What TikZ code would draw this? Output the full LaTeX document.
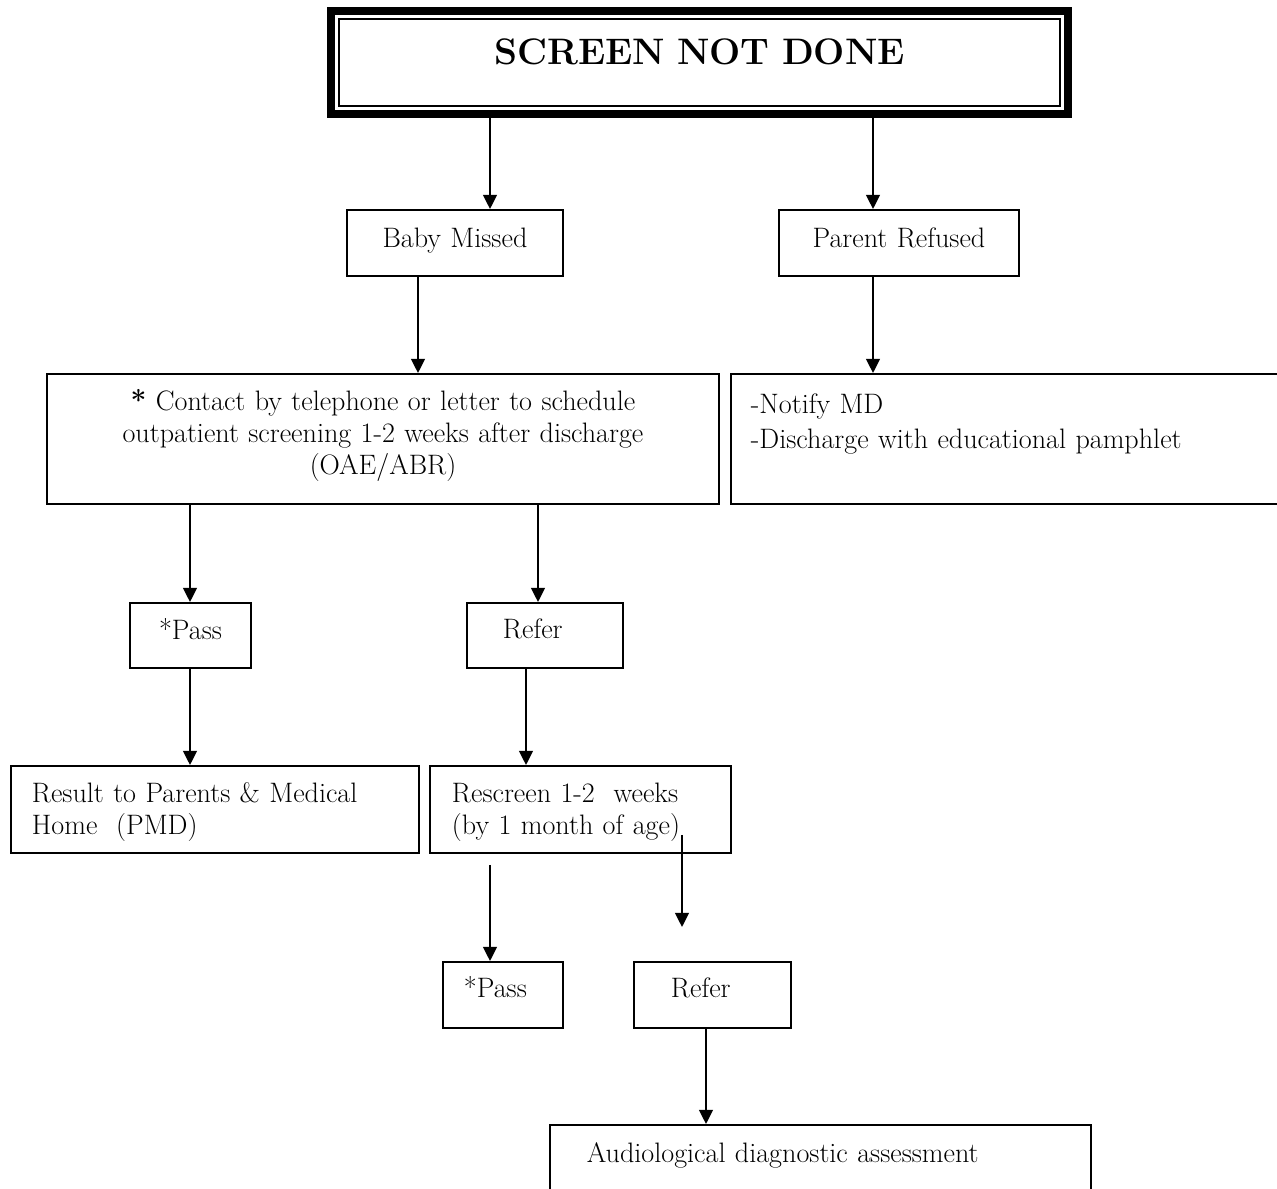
\documentclass[tikz,border=0pt]{standalone}
\usepackage{tikz}
\usetikzlibrary{arrows.meta}

\newdimen\pxu
\pxu=0.02cm

\tikzset{
  box/.style={draw, line width=1.1pt, anchor=north west, inner ysep=0pt, inner xsep=20\pxu,
    align=left, font=\fontsize{16}{18.1}\selectfont},
  arr/.style={line width=1.1pt, -{Triangle[width=7.8pt,length=8pt]}}
}

\begin{document}
\begin{tikzpicture}[x=0.02cm, y=-0.02cm]
  \useasboundingbox (0,0) rectangle (1277,1188);
  \clip (0,0) rectangle (1277,1188);

  % title
  \node[draw, line width=4.5pt, anchor=north west, inner sep=0pt, text width=737\pxu, align=center,
    text height=54\pxu, text depth=49\pxu, font=\fontsize{21}{24}\selectfont\bfseries] (title) at (327,7) {SCREEN NOT DONE};
  \draw[line width=1.1pt] ([shift={(12,12)}]title.north west) rectangle ([shift={(-12,-12)}]title.south east);

  % boxes
  \node[box, inner xsep=10\pxu, text width=196\pxu, align=center, text height=38\pxu, text depth=28\pxu] (baby) at (346,209) {Baby Missed};
  \node[box, inner xsep=10\pxu, text width=220\pxu, align=center, text height=38\pxu, text depth=28\pxu] (parent) at (778,209) {Parent Refused};
  \node[box, inner xsep=10\pxu, text width=652\pxu, align=center, text height=37\pxu, text depth=93\pxu] (contact) at (46,373)
    {\textbf{*} Contact by telephone or letter to schedule\\ outpatient screening 1-2 weeks after discharge\\ (OAE/ABR)};
  \node[box, text width=520\pxu, text height=40\pxu, text depth=90\pxu] (notify) at (730,373)
    {-Notify MD\\[3\pxu] -Discharge with educational pamphlet};
  \node[box, inner xsep=10\pxu, text width=101\pxu, align=center, text height=37\pxu, text depth=28\pxu] (pass1) at (129,602) {*Pass};
  \node[box, inner xsep=36\pxu, text width=84\pxu, text height=36\pxu, text depth=29\pxu] (refer1) at (466,602) {Refer};
  \node[box, inner xsep=21\pxu, text width=366\pxu, text height=37\pxu, text depth=50\pxu] (result) at (10,765)
    {Result to Parents \& Medical\\ Home~ (PMD)};
  \node[box, inner xsep=22\pxu, text width=257\pxu, text height=37\pxu, text depth=50\pxu] (rescreen) at (429,765)
    {Rescreen 1-2~ weeks\\ (by 1 month of age)};
  \node[box, inner xsep=21\pxu, text width=78\pxu, text height=36\pxu, text depth=30\pxu] (pass2) at (442,961) {*Pass};
  \node[box, inner xsep=37\pxu, text width=83\pxu, text height=36\pxu, text depth=30\pxu] (refer2) at (633,961) {Refer};
  \node[box, inner xsep=37\pxu, text width=467\pxu, text height=38\pxu, text depth=60\pxu] (audio) at (549,1124)
    {Audiological diagnostic assessment};

  \coordinate (gap) at ([xshift=49\pxu, yshift=34\pxu]refer2.north west);

  % arrows
  \draw[arr] ([xshift=144\pxu]baby.north west |- title.south) -- ([xshift=144\pxu]baby.north west);
  \draw[arr] ([xshift=95\pxu]parent.north west |- title.south) -- ([xshift=95\pxu]parent.north west);
  \draw[arr] ([xshift=72\pxu]baby.south west) -- ([xshift=72\pxu]baby.south west |- contact.north);
  \draw[arr] ([xshift=95\pxu]parent.south west) -- ([xshift=95\pxu]parent.south west |- notify.north);
  \draw[arr] ([xshift=61\pxu]pass1.north west |- contact.south) -- ([xshift=61\pxu]pass1.north west);
  \draw[arr] ([xshift=72\pxu]refer1.north west |- contact.south) -- ([xshift=72\pxu]refer1.north west);
  \draw[arr] ([xshift=61\pxu]pass1.south west) -- ([xshift=61\pxu]pass1.south west |- result.north);
  \draw[arr] ([xshift=60\pxu]refer1.south west) -- ([xshift=60\pxu]refer1.south west |- rescreen.north);
  \draw[arr] ([xshift=48\pxu, yshift=-11\pxu]pass2.north west |- rescreen.south) -- ([xshift=48\pxu]pass2.north west);
  \draw[arr] ([xshift=253\pxu, yshift=19\pxu]rescreen.south west) -- (gap);
  \draw[arr] ([xshift=73\pxu]refer2.south west) -- ([xshift=73\pxu]refer2.south west |- audio.north);
\end{tikzpicture}
\end{document}
